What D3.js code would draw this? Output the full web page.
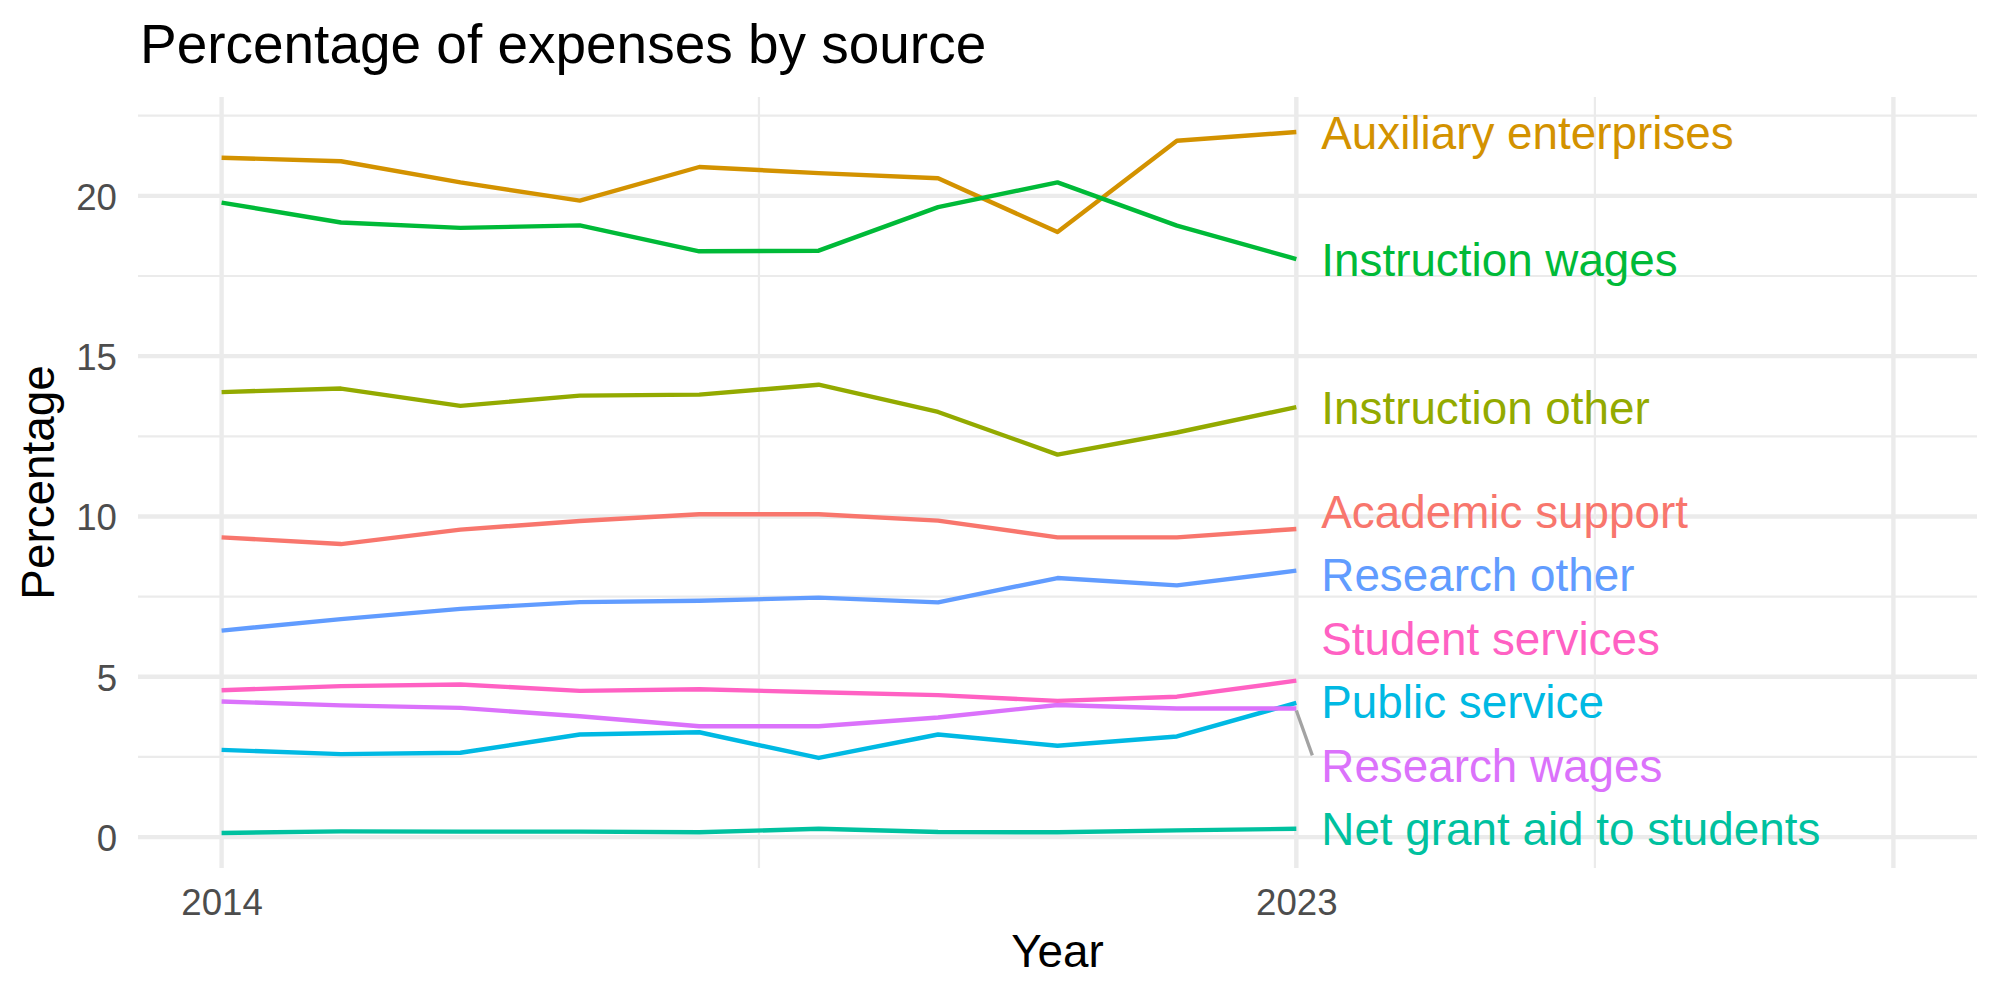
<!DOCTYPE html>
<html>
<head>
<meta charset="utf-8">
<script src="https://cdn.jsdelivr.net/npm/d3@7"></script>
<style>
  body { margin: 0; background: #ffffff; }
  svg { display: block; font-family: "Liberation Sans", Arial, Helvetica, sans-serif; }
</style>
</head>
<body>
<svg id="chart" width="2000" height="1000"></svg>
<script>
// ---------------- DATA ----------------
const years = [2014, 2015, 2016, 2017, 2018, 2019, 2020, 2021, 2022, 2023];

const seriesNames = [
  "Academic support", "Auxiliary enterprises", "Instruction other",
  "Instruction wages", "Net grant aid to students", "Public service",
  "Research other", "Research wages", "Student services"
];

const academicSupport      = [9.35, 9.14, 9.59, 9.86, 10.07, 10.07, 9.87, 9.35, 9.35, 9.61];
const auxiliaryEnterprises = [21.19, 21.08, 20.42, 19.85, 20.90, 20.71, 20.55, 18.87, 21.72, 21.99];
const instructionOther     = [13.88, 13.99, 13.45, 13.77, 13.80, 14.11, 13.26, 11.93, 12.62, 13.41];
const instructionWages     = [19.79, 19.17, 19.00, 19.08, 18.27, 18.29, 19.65, 20.42, 19.07, 18.03];
const netGrantAid          = [0.13, 0.18, 0.17, 0.17, 0.15, 0.26, 0.16, 0.15, 0.21, 0.26];
const publicService        = [2.72, 2.59, 2.63, 3.20, 3.27, 2.47, 3.20, 2.85, 3.14, 4.19];
const researchOther        = [6.44, 6.80, 7.12, 7.33, 7.37, 7.47, 7.32, 8.08, 7.85, 8.31];
const researchWages        = [4.23, 4.11, 4.03, 3.77, 3.46, 3.46, 3.73, 4.12, 4.01, 4.01];
const studentServices      = [4.58, 4.71, 4.76, 4.56, 4.61, 4.52, 4.43, 4.25, 4.38, 4.88];

const seriesValues = [
  academicSupport, auxiliaryEnterprises, instructionOther, instructionWages,
  netGrantAid, publicService, researchOther, researchWages, studentServices
];

// ggplot2 default hue palette for 9 groups
const seriesColors = ["#F8766D", "#D39200", "#93AA00", "#00BA38", "#00C19F",
                      "#00B9E3", "#619CFF", "#DB72FB", "#FF61C3"];

const xLimits = [2014, 2028];
const xBreaks = [2014, 2023, 2028];
const xTickLabels = ["2014", "2023", ""];
const yBreaks = [0, 5, 10, 15, 20];
const yTickLabels = ["0", "5", "10", "15", "20"];

const titleText = "Percentage of expenses by source";
const xTitle = "Year";
const yTitle = "Percentage";

// ---------------- LAYOUT ----------------
const panel = { left: 138, right: 1977, top: 97, bottom: 868 };
const fontFamily = '"Liberation Sans", Arial, Helvetica, sans-serif';
const baseSize = 45.8;
const tickSize = baseSize * 0.8;
const titleSize = baseSize * 1.2;
const labelSize = 45.8;
const gridColor = "#EBEBEB";
const lineW = 4.4;

const svg = d3.select("#chart");
svg.append("rect").attr("width", 2000).attr("height", 1000).attr("fill", "#ffffff");

const expand = (lo, hi) => { const p = (hi - lo) * 0.05; return [lo - p, hi + p]; };
const allVals = seriesValues.flat();

const x = d3.scaleLinear().domain(expand(xLimits[0], xLimits[1])).range([panel.left, panel.right]);
const y = d3.scaleLinear().domain(expand(d3.min(allVals), d3.max(allVals))).range([panel.bottom, panel.top]);

function minorBreaks(majors, domain) {
  const step = majors[1] - majors[0];
  const stepEnd = majors[majors.length - 1] - majors[majors.length - 2];
  const ext = [majors[0] - step, ...majors, majors[majors.length - 1] + stepEnd];
  const out = [];
  for (let i = 0; i < ext.length - 1; i++) {
    const m = (ext[i] + ext[i + 1]) / 2;
    if (m >= domain[0] && m <= domain[1]) out.push(m);
  }
  return out;
}

// ---------------- GRID ----------------
const grid = svg.append("g");
const xMinor = minorBreaks(xBreaks, x.domain());
const yMinor = minorBreaks(yBreaks, y.domain());

grid.selectAll(".ym").data(yMinor).enter().append("line")
  .attr("x1", panel.left).attr("x2", panel.right)
  .attr("y1", d => y(d)).attr("y2", d => y(d))
  .attr("stroke", gridColor).attr("stroke-width", lineW / 2);
grid.selectAll(".xm").data(xMinor).enter().append("line")
  .attr("y1", panel.top).attr("y2", panel.bottom)
  .attr("x1", d => x(d)).attr("x2", d => x(d))
  .attr("stroke", gridColor).attr("stroke-width", lineW / 2);
grid.selectAll(".yM").data(yBreaks).enter().append("line")
  .attr("x1", panel.left).attr("x2", panel.right)
  .attr("y1", d => y(d)).attr("y2", d => y(d))
  .attr("stroke", gridColor).attr("stroke-width", lineW);
grid.selectAll(".xM").data(xBreaks).enter().append("line")
  .attr("y1", panel.top).attr("y2", panel.bottom)
  .attr("x1", d => x(d)).attr("x2", d => x(d))
  .attr("stroke", gridColor).attr("stroke-width", lineW);

// ---------------- AXES ----------------
const xAxis = d3.axisBottom(x).tickValues(xBreaks)
  .tickFormat((d, i) => xTickLabels[i]).tickSize(0).tickPadding(21);
const gx = svg.append("g").attr("transform", `translate(0,${panel.bottom})`).call(xAxis);
gx.select(".domain").remove();
gx.selectAll("text").attr("font-family", fontFamily).attr("font-size", tickSize).attr("fill", "#4D4D4D");

const yAxis = d3.axisLeft(y).tickValues(yBreaks)
  .tickFormat((d, i) => yTickLabels[i]).tickSize(0).tickPadding(21);
const gy = svg.append("g").attr("transform", `translate(${panel.left},0)`).call(yAxis);
gy.select(".domain").remove();
gy.selectAll("text").attr("font-family", fontFamily).attr("font-size", tickSize)
  .attr("fill", "#4D4D4D").attr("dy", "0.36em");

// ---------------- LINES ----------------
const line = d3.line().x(d => x(d.year)).y(d => y(d.v));
const series = seriesNames.map((name, i) => ({
  name, color: seriesColors[i],
  points: years.map((yr, j) => ({ year: yr, v: seriesValues[i][j] }))
}));

svg.append("g").selectAll("path").data(series).enter().append("path")
  .attr("d", d => line(d.points))
  .attr("fill", "none").attr("stroke", d => d.color)
  .attr("stroke-width", lineW).attr("stroke-linejoin", "round");

// ---------------- REPELLED END LABELS ----------------
const gap = labelSize * 1.387;
const items = series.map(s => {
  const last = s.points[s.points.length - 1];
  return { s, px: x(last.year), target: y(last.v) };
}).sort((a, b) => a.target - b.target);

let clusters = items.map(it => ({ members: [it] }));
function layoutCluster(c) {
  const mean = d3.mean(c.members, m => m.target);
  c.top = mean - (c.members.length - 1) / 2 * gap;
  c.bottom = c.top + (c.members.length - 1) * gap;
}
let merged = true;
while (merged) {
  merged = false;
  clusters.forEach(layoutCluster);
  for (let i = 0; i < clusters.length - 1; i++) {
    if (clusters[i + 1].top - clusters[i].bottom < gap - 0.01) {
      clusters[i].members = clusters[i].members.concat(clusters[i + 1].members);
      clusters.splice(i + 1, 1);
      merged = true;
      break;
    }
  }
}
clusters.forEach(c => c.members.forEach((m, k) => { m.ly = c.top + k * gap; }));

const labelOffset = 25;
const labels = svg.append("g");
items.forEach(it => {
  const lx = it.px + labelOffset;
  const ex = lx - 9;
  const ey = Math.max(it.ly - 10, Math.min(it.ly + 10, it.target));
  const dist = Math.hypot(ex - it.px, ey - it.target);
  if (dist > 43) {
    labels.append("line")
      .attr("x1", it.px).attr("y1", it.target + 2)
      .attr("x2", ex).attr("y2", ey)
      .attr("stroke", "#A3A3A3").attr("stroke-width", 3.3);
  }
  labels.append("text")
    .attr("x", lx).attr("y", it.ly).attr("dy", "0.36em")
    .attr("font-family", fontFamily).attr("font-size", labelSize)
    .attr("fill", it.s.color).text(it.s.name);
});

// ---------------- TITLES ----------------
svg.append("text").attr("x", panel.left + 2).attr("y", 63)
  .attr("font-family", fontFamily).attr("font-size", titleSize).attr("fill", "#000")
  .text(titleText);

svg.append("text").attr("x", (panel.left + panel.right) / 2).attr("y", 967)
  .attr("text-anchor", "middle")
  .attr("font-family", fontFamily).attr("font-size", baseSize).attr("fill", "#000")
  .text(xTitle);

svg.append("text")
  .attr("transform", `translate(54,${(panel.top + panel.bottom) / 2}) rotate(-90)`)
  .attr("text-anchor", "middle")
  .attr("font-family", fontFamily).attr("font-size", baseSize).attr("fill", "#000")
  .text(yTitle);
</script>
</body>
</html>
